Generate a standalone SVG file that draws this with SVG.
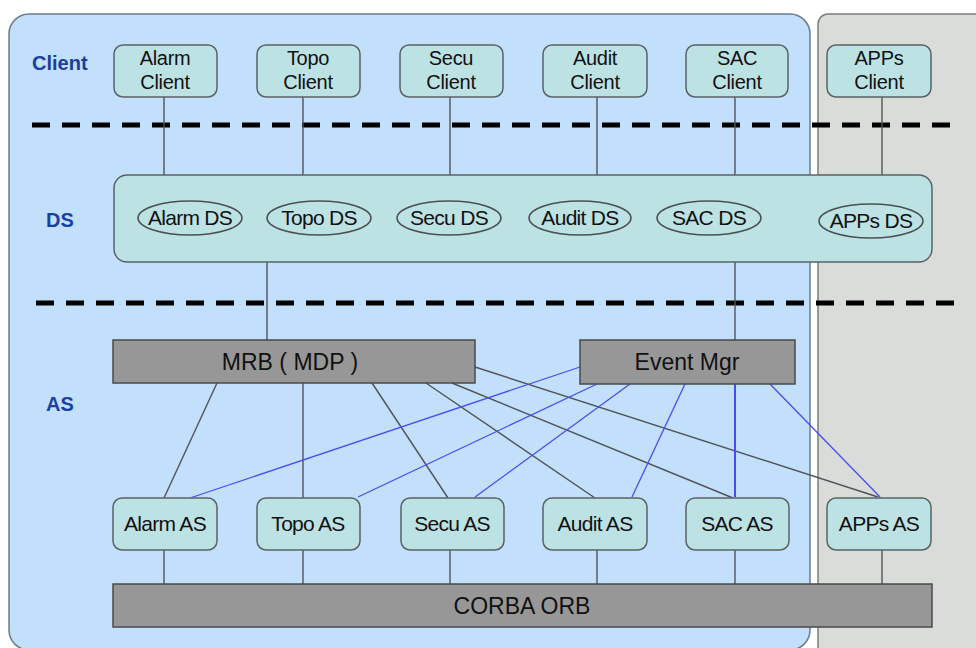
<svg xmlns="http://www.w3.org/2000/svg" width="976" height="648" viewBox="0 0 976 648">
<style>
.panel-b{fill:#c2e0fb;stroke:#6b7b8c;stroke-width:1.5}
.panel-g{fill:#d9dcd8;stroke:#7a7f7b;stroke-width:1.5}
.node rect{fill:#bde2e4;stroke:#5a6265;stroke-width:1.5}
.ds ellipse{fill:none;stroke:#4a5052;stroke-width:1.5}
.bar{fill:#979797;stroke:#4a4a4a;stroke-width:1.5}
text{font-family:"Liberation Sans",Arial,sans-serif;fill:#111;text-anchor:middle}
.t19{font-size:20px;letter-spacing:-0.3px}
.t20{font-size:21px;letter-spacing:-0.7px}
.t22{font-size:23px}
.lbl{font-size:20px;font-weight:bold;fill:#1b3f9e;text-anchor:start}
.dash{stroke:#000;stroke-width:5;stroke-dasharray:18 12}
.g{stroke:#4f5456;stroke-width:1.4;fill:none}
.b{stroke:#4b4bf5;stroke-width:1.3;fill:none}
</style>
<rect x="0" y="0" width="976" height="648" fill="#ffffff"/>
<rect class="panel-b" x="9" y="14" width="801" height="636" rx="20"/>
<rect class="panel-g" x="818" y="14" width="180" height="660" rx="10"/>

<text class="lbl" x="32" y="70">Client</text>
<text class="lbl" x="46" y="227">DS</text>
<text class="lbl" x="46" y="411">AS</text>

<line class="dash" x1="32" y1="125" x2="962" y2="125"/>
<line class="dash" x1="36" y1="303" x2="962" y2="303"/>

<g id="connectors">
  <line class="g" x1="164" y1="97" x2="164" y2="176"/>
  <line class="g" x1="303" y1="97" x2="303" y2="176"/>
  <line class="g" x1="450" y1="97" x2="450" y2="176"/>
  <line class="g" x1="597" y1="97" x2="597" y2="176"/>
  <line class="g" x1="735" y1="97" x2="735" y2="176"/>
  <line class="g" x1="882" y1="97" x2="882" y2="176"/>
  <line class="g" x1="267" y1="262" x2="267" y2="341"/>
  <line class="g" x1="735" y1="262" x2="735" y2="341"/>
  <line class="g" x1="217" y1="383" x2="164" y2="498"/>
  <line class="g" x1="303" y1="383" x2="303" y2="498"/>
  <line class="g" x1="372" y1="383" x2="448" y2="498"/>
  <line class="g" x1="426" y1="383" x2="595" y2="498"/>
  <line class="g" x1="452" y1="383" x2="733" y2="498"/>
  <line class="g" x1="475" y1="367" x2="878" y2="497"/>
  <line class="b" x1="580" y1="367" x2="190" y2="498"/>
  <line class="b" x1="597" y1="384" x2="358" y2="497"/>
  <line class="b" x1="630" y1="384" x2="475" y2="497"/>
  <line class="b" x1="685" y1="384" x2="632" y2="497"/>
  <line class="b" x1="735" y1="384" x2="735" y2="497" style="stroke-width:2"/>
  <line class="b" x1="770" y1="384" x2="880" y2="497"/>
  <line class="g" x1="164" y1="550" x2="164" y2="585"/>
  <line class="g" x1="303" y1="550" x2="303" y2="585"/>
  <line class="g" x1="450" y1="550" x2="450" y2="585"/>
  <line class="g" x1="597" y1="550" x2="597" y2="585"/>
  <line class="g" x1="735" y1="550" x2="735" y2="585"/>
  <line class="g" x1="882" y1="550" x2="882" y2="585"/>
</g>

<g id="alarm-client" class="node"><rect x="114" y="45" width="103" height="52" rx="9"/><text class="t19" x="165" y="65">Alarm</text><text class="t19" x="165" y="89">Client</text></g>
<g id="topo-client" class="node"><rect x="257" y="45" width="103" height="52" rx="9"/><text class="t19" x="308" y="65">Topo</text><text class="t19" x="308" y="89">Client</text></g>
<g id="secu-client" class="node"><rect x="400" y="45" width="103" height="52" rx="9"/><text class="t19" x="451" y="65">Secu</text><text class="t19" x="451" y="89">Client</text></g>
<g id="audit-client" class="node"><rect x="543" y="45" width="104" height="52" rx="9"/><text class="t19" x="595" y="65">Audit</text><text class="t19" x="595" y="89">Client</text></g>
<g id="sac-client" class="node"><rect x="686" y="45" width="102" height="52" rx="9"/><text class="t19" x="737" y="65">SAC</text><text class="t19" x="737" y="89">Client</text></g>
<g id="apps-client" class="node"><rect x="827" y="45" width="104" height="52" rx="9"/><text class="t19" x="879" y="65">APPs</text><text class="t19" x="879" y="89">Client</text></g>

<g id="ds" class="node ds">
  <rect x="114" y="175" width="818" height="87" rx="13"/>
  <ellipse cx="190" cy="218" rx="52" ry="17"/><text class="t20" x="190" y="225">Alarm DS</text>
  <ellipse cx="319" cy="218" rx="52" ry="17"/><text class="t20" x="319" y="225">Topo DS</text>
  <ellipse cx="449" cy="218" rx="52" ry="17"/><text class="t20" x="449" y="225">Secu DS</text>
  <ellipse cx="580" cy="218" rx="51" ry="17"/><text class="t20" x="580" y="225">Audit DS</text>
  <ellipse cx="709" cy="218" rx="52" ry="17"/><text class="t20" x="709" y="225">SAC DS</text>
  <ellipse cx="871" cy="221" rx="52" ry="17"/><text class="t20" x="871" y="228">APPs DS</text>
</g>

<g id="mrb"><rect class="bar" x="113" y="340" width="362" height="43"/><text class="t22" x="290" y="370">MRB ( MDP )</text></g>
<g id="event-mgr"><rect class="bar" x="580" y="340" width="215" height="44"/><text class="t22" x="687" y="370">Event Mgr</text></g>

<g id="alarm-as" class="node"><rect x="113" y="498" width="104" height="52" rx="9"/><text class="t20" x="165" y="531">Alarm AS</text></g>
<g id="topo-as" class="node"><rect x="257" y="498" width="103" height="52" rx="9"/><text class="t20" x="308" y="531">Topo AS</text></g>
<g id="secu-as" class="node"><rect x="401" y="498" width="103" height="52" rx="9"/><text class="t20" x="452" y="531">Secu AS</text></g>
<g id="audit-as" class="node"><rect x="543" y="498" width="104" height="52" rx="9"/><text class="t20" x="595" y="531">Audit AS</text></g>
<g id="sac-as" class="node"><rect x="686" y="498" width="103" height="52" rx="9"/><text class="t20" x="737" y="531">SAC AS</text></g>
<g id="apps-as" class="node"><rect x="827" y="498" width="104" height="52" rx="9"/><text class="t20" x="879" y="531">APPs AS</text></g>

<g id="corba-orb"><rect class="bar" x="113" y="584" width="819" height="43"/><text class="t22" x="522" y="614">CORBA ORB</text></g>
</svg>
